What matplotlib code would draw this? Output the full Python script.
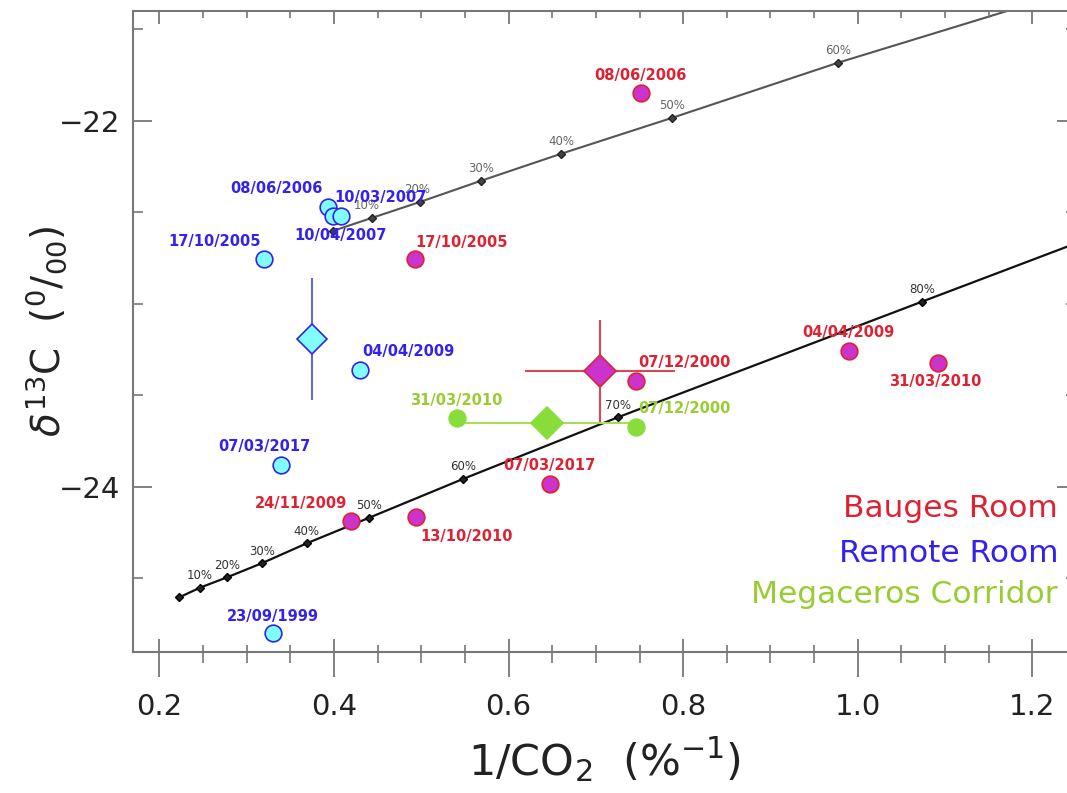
import numpy as np
import matplotlib.pyplot as plt

plt.rcParams['font.family'] = ['DejaVu Sans']
plt.rcParams['mathtext.fontset'] = 'dejavusans'

# mixing lines (marker positions)
upper_pct = ['', '10%', '20%', '30%', '40%', '50%', '60%']
upper_x = [0.399, 0.4435, 0.4985, 0.568, 0.660, 0.787, 0.977]
upper_y = [-22.601, -22.530, -22.443, -22.328, -22.180, -21.984, -21.683]
upper_end = (1.171, -21.4)

lower_pct = ['', '10%', '20%', '30%', '40%', '50%', '60%', '70%', '80%']
lower_x = [0.2227, 0.2466, 0.2778, 0.3172, 0.3687, 0.4404, 0.548, 0.7255, 1.074]
lower_y = [-24.603, -24.550, -24.493, -24.417, -24.308, -24.168, -23.956, -23.619, -22.987]
lower_end = (1.25, -22.669)

# Bauges Room
bauges_dates = ['08/06/2006', '17/10/2005', '07/12/2000', '04/04/2009',
                '31/03/2010', '07/03/2017', '24/11/2009', '13/10/2010']
bauges_x = [0.7515, 0.4927, 0.7465, 0.990, 1.092, 0.648, 0.420, 0.494]
bauges_y = [-21.849, -22.756, -23.421, -23.257, -23.321, -23.984, -24.184, -24.162]
bauges_mean = [0.7045, -23.366]
bauges_err = [0.086, 0.28]

# Remote Room
remote_dates = ['08/06/2006', '10/04/2007', '10/03/2007', '17/10/2005',
                '04/04/2009', '07/03/2017', '23/09/1999']
remote_x = [0.393, 0.3985, 0.408, 0.320, 0.430, 0.339, 0.330]
remote_y = [-22.468, -22.519, -22.519, -22.756, -23.361, -23.880, -24.799]
remote_mean = [0.375, -23.19]
remote_err = [0.0, 0.334]

# Megaceros Corridor
mega_dates = ['31/03/2010', '07/12/2000']
mega_x = [0.5405, 0.7465]
mega_y = [-23.625, -23.670]
mega_mean = [0.6435, -23.649]
mega_err = [0.103, 0.0]

# label offsets in pixels (dx right, dy down)
bauges_off = [(0, -18), (47, -17), (48, -18), (-1, -18), (-3, 19), (-1, -19), (-50, -17), (50, 20)]
remote_off = [(-51, -18), (8, 20), (39, -18), (-50, -18), (48, -18), (-16, -18), (0, -17)]
mega_off = [(0, -18), (48, -18)]
upper_pct_off = [(0, 12), (-5, 12), (-3, 12), (0, 12), (0, 12), (0, 12), (0, 12)]

RED, MAG = '#dd2233', '#cc33cc'
BLUE, CYAN = '#3322ee', '#80ffff'
GREEN_T, GREEN = '#99cc33', '#88dd3a'
PX = 0.72  # points per pixel at dpi 100

fig = plt.figure(figsize=(10.67, 7.93), dpi=100)
ax = fig.add_axes([0.1249, 0.1782, 0.8835, 0.8079])

# mixing lines
ax.plot(upper_x + [upper_end[0]], upper_y + [upper_end[1]], color='#555555', lw=1.5, zorder=2)
ax.plot(upper_x, upper_y, ls='none', marker='D', ms=4, mfc='#444444', mec='#222222', zorder=3)
ax.plot(lower_x + [lower_end[0]], lower_y + [lower_end[1]], color='#111111', lw=1.6, zorder=2)
ax.plot(lower_x, lower_y, ls='none', marker='D', ms=4, mfc='#222222', mec='#000000', zorder=3)
for p, x, y, (dx, dy) in zip(upper_pct, upper_x, upper_y, upper_pct_off):
    ax.annotate(p, (x, y), xytext=(dx * PX, dy * PX), textcoords='offset points',
                ha='center', va='center', fontsize=8.5, color='#666666')
for p, x, y in zip(lower_pct, lower_x, lower_y):
    ax.annotate(p, (x, y), xytext=(0, 12 * PX), textcoords='offset points',
                ha='center', va='center', fontsize=8.5, color='#333333')

# error bars / means
ax.errorbar(bauges_mean[0], bauges_mean[1], xerr=bauges_err[0], yerr=bauges_err[1],
            fmt='D', ms=16, mfc=MAG, mec=RED, mew=1.2, ecolor='#dd4455', elinewidth=1.5,
            capsize=0, zorder=4)
ax.errorbar(remote_mean[0], remote_mean[1], yerr=remote_err[1],
            fmt='D', ms=15, mfc=CYAN, mec=BLUE, mew=1.2, ecolor='#6666dd', elinewidth=1.5,
            capsize=0, zorder=4)
ax.errorbar(mega_mean[0], mega_mean[1], xerr=mega_err[0],
            fmt='D', ms=16, mfc=GREEN, mec=GREEN, mew=1.2, ecolor='#aadd55', elinewidth=1.5,
            capsize=0, zorder=4)

# individual samples
ax.plot(bauges_x, bauges_y, ls='none', marker='o', ms=12, mfc=MAG, mec=RED, mew=1.2, zorder=5)
ax.plot(remote_x, remote_y, ls='none', marker='o', ms=12, mfc=CYAN, mec=BLUE, mew=1.2, zorder=5)
ax.plot(mega_x, mega_y, ls='none', marker='o', ms=12, mfc=GREEN, mec=GREEN, mew=1.2, zorder=5)

for dates, xs, ys, offs, col in [(bauges_dates, bauges_x, bauges_y, bauges_off, RED),
                                 (remote_dates, remote_x, remote_y, remote_off, BLUE),
                                 (mega_dates, mega_x, mega_y, mega_off, GREEN_T)]:
    for d, x, y, (dx, dy) in zip(dates, xs, ys, offs):
        ax.annotate(d, (x, y), xytext=(dx * PX, -dy * PX), textcoords='offset points',
                    ha='center', va='center', fontsize=10.5, fontweight='bold', color=col,
                    zorder=6)

# legend as coloured text
ax.text(0.981, 0.2107, 'Bauges Room', transform=ax.transAxes, ha='right', va='baseline',
        fontsize=22.5, color='#dd2233')
ax.text(0.981, 0.1405, 'Remote Room', transform=ax.transAxes, ha='right', va='baseline',
        fontsize=22.5, color='#3322ee')
ax.text(0.981, 0.0755, 'Megaceros Corridor', transform=ax.transAxes, ha='right', va='baseline',
        fontsize=22.5, color='#99cc33')

ax.set_xlim(0.17, 1.25)
ax.set_ylim(-24.9, -21.4)
ax.set_xticks([0.2, 0.4, 0.6, 0.8, 1.0, 1.2])
ax.set_xticks(np.arange(0.2, 1.25, 0.05), minor=True)
ax.set_xticklabels(['0.2', '0.4', '0.6', '0.8', '1.0', '1.2'])
ax.set_yticks([-24, -22])
ax.set_yticklabels(['\u221224', '\u221222'])
ax.set_yticks(np.arange(-24.5, -21.4, 0.5), minor=True)

for s in ax.spines.values():
    s.set_color('#777777')
    s.set_linewidth(1.5)

ax.tick_params(axis='x', which='major', direction='out', length=25 * PX, width=1.3,
               color='#777777', labelsize=21, pad=16 * PX, top=False, labelcolor='#222222')
ax.tick_params(axis='x', which='minor', direction='out', length=11.5 * PX, width=1.2,
               color='#777777', top=False)
ax.tick_params(axis='y', which='major', direction='in', length=19 * PX, width=1.3,
               color='#777777', labelsize=21, pad=13 * PX, left=True, right=True,
               labelcolor='#222222')
ax.tick_params(axis='y', which='minor', direction='in', length=10 * PX, width=1.2,
               color='#777777', left=True, right=True)

# inward ticks on top and bottom
ax2 = ax.twiny()
ax2.set_xlim(ax.get_xlim())
ax2.set_xticks(ax.get_xticks())
ax2.set_xticks(np.arange(0.2, 1.25, 0.05), minor=True)
ax2.tick_params(axis='x', which='major', direction='in', length=13 * PX, width=1.3,
                color='#777777', top=True, bottom=True, labeltop=False, labelbottom=False)
ax2.tick_params(axis='x', which='minor', direction='in', length=7 * PX, width=1.2,
                color='#777777', top=True, bottom=True)
for s in ax2.spines.values():
    s.set_visible(False)

ax.set_xlabel(r'$1/\mathrm{CO_2}\ \ (\%^{-1})$', fontsize=31, color='#222222')
ax.xaxis.set_label_coords(0.5, -0.131)
ax.set_ylabel(r'$\delta^{13}\mathrm{C}\ \ (^{0}/_{00})$', fontsize=28, color='#222222')
ax.yaxis.set_label_coords(-0.068, 0.5)

fig.savefig('out.png', dpi=100)
